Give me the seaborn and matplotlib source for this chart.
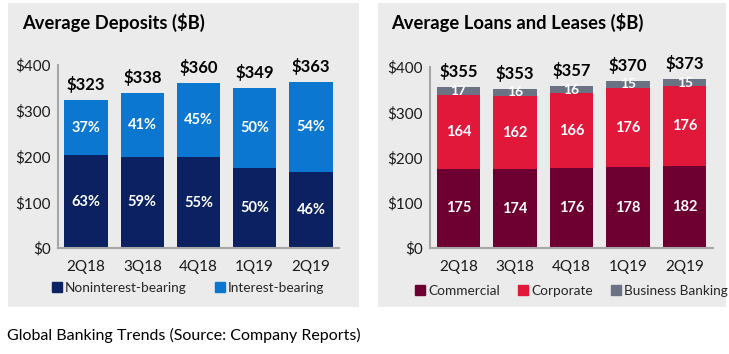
import pandas as pd
import seaborn as sns
import matplotlib.pyplot as plt
from matplotlib.patches import Rectangle, Patch

quarters = ['2Q18', '3Q18', '4Q18', '1Q19', '2Q19']

# Average Deposits ($B)
dep_total = [323, 338, 360, 349, 363]
dep_nonint = [203, 199, 198, 175, 167]
dep_nonint_pct = ['63%', '59%', '55%', '50%', '46%']
dep_int_pct = ['37%', '41%', '45%', '50%', '54%']

# Average Loans and Leases ($B)
loan_total = [355, 353, 357, 370, 373]
loan_commercial = [175, 174, 176, 178, 182]
loan_corporate = [164, 162, 166, 176, 176]
loan_business = [17, 16, 16, 15, 15]

NAVY, BLUE = '#0B2162', '#0B77D1'
MAROON, RED, SLATE = '#6D0030', '#E2183A', '#6B7284'
PANEL = '#EBEBEB'

sns.set_theme(style='white')
plt.rcParams['font.family'] = ['Lato', 'DejaVu Sans']

W, H = 729, 354
fig = plt.figure(figsize=(W / 100, H / 100), dpi=100)
fig.patch.set_facecolor('white')


def px(x, y, w, h):
    # pixel box (left, top, width, height) -> figure fraction
    return [x / W, (H - y - h) / H, w / W, h / H]


# gray panels
for x0, w0 in [(8, 351), (378, 348)]:
    b = px(x0, 3, w0, 304)
    fig.add_artist(Rectangle((b[0], b[1]), b[2], b[3], transform=fig.transFigure,
                             facecolor=PANEL, edgecolor='none', zorder=0))


def style_axis(ax):
    ax.set_facecolor(PANEL)
    ax.set_ylim(0, 400)
    ax.set_xlim(-0.5, 4.5)
    ax.set_yticks([0, 100, 200, 300, 400])
    ax.set_yticklabels(['$0', '$100', '$200', '$300', '$400'])
    for s in ['top', 'right']:
        ax.spines[s].set_visible(False)
    for s in ['left', 'bottom']:
        ax.spines[s].set_color('#A6A6A6')
        ax.spines[s].set_linewidth(1.5)
    ax.tick_params(axis='both', length=0, labelsize=11, colors='#1a1a1a')
    ax.tick_params(axis='x', pad=9)
    ax.tick_params(axis='y', pad=5)
    ax.set_xlabel('')
    ax.set_ylabel('')


def layer(ax, vals, color):
    df = pd.DataFrame({'q': quarters, 'v': vals})
    sns.barplot(data=df, x='q', y='v', color=color, saturation=1, width=0.77,
                ax=ax, errorbar=None, edgecolor='none')


# ---- Deposits
ax1 = fig.add_axes(px(58, 65, 281, 183))
layer(ax1, dep_total, BLUE)
layer(ax1, dep_nonint, NAVY)
style_axis(ax1)
for i in range(len(quarters)):
    ax1.text(i, dep_nonint[i] / 2, dep_nonint_pct[i], ha='center', va='center',
             color='white', fontsize=10.5, fontweight='bold')
    ax1.text(i, (dep_total[i] + dep_nonint[i]) / 2, dep_int_pct[i], ha='center',
             va='center', color='white', fontsize=10.5, fontweight='bold')
    ax1.annotate(f'${dep_total[i]}', (i, dep_total[i]), xytext=(0, 5),
                 textcoords='offset points', ha='center', va='bottom',
                 fontsize=12, fontweight='bold', color='black')

# ---- Loans
ax2 = fig.add_axes(px(430, 67, 283, 181))
cum2 = [a + b for a, b in zip(loan_commercial, loan_corporate)]
cum3 = [a + b for a, b in zip(cum2, loan_business)]
layer(ax2, cum3, SLATE)
layer(ax2, cum2, RED)
layer(ax2, loan_commercial, MAROON)
style_axis(ax2)
for i in range(len(quarters)):
    ax2.text(i, loan_commercial[i] / 2, str(loan_commercial[i]), ha='center',
             va='center', color='white', fontsize=10.5, fontweight='bold')
    ax2.text(i, loan_commercial[i] + loan_corporate[i] / 2, str(loan_corporate[i]),
             ha='center', va='center', color='white', fontsize=10.5, fontweight='bold')
    ax2.text(i, cum2[i] + loan_business[i] / 2, str(loan_business[i]), ha='center',
             va='center', color='white', fontsize=10, fontweight='bold')
    ax2.annotate(f'${loan_total[i]}', (i, cum3[i]), xytext=(0, 5),
                 textcoords='offset points', ha='center', va='bottom',
                 fontsize=12, fontweight='bold', color='black')

# titles
fig.text(22 / W, 1 - 22 / H, 'Average Deposits ($B)', fontsize=13.2,
         fontweight='bold', va='center', ha='left', color='black')
fig.text(391 / W, 1 - 22 / H, 'Average Loans and Leases ($B)', fontsize=13.2,
         fontweight='bold', va='center', ha='left', color='black')

# legends
leg_kw = dict(loc='center left', frameon=False, fontsize=9.8, handlelength=0.75,
              handleheight=0.75, handletextpad=0.2, borderpad=0, borderaxespad=0)
fig.legend(handles=[Patch(color=NAVY, label='Noninterest-bearing'),
                    Patch(color=BLUE, label='Interest-bearing')],
           bbox_to_anchor=(52 / W, 1 - 288 / H), ncol=2, columnspacing=2.1, **leg_kw)
fig.legend(handles=[Patch(color=MAROON, label='Commercial'),
                    Patch(color=RED, label='Corporate'),
                    Patch(color=SLATE, label='Business Banking')],
           bbox_to_anchor=(415 / W, 1 - 291 / H), ncol=3, columnspacing=1.35, **leg_kw)

fig.text(7 / W, 1 - 335 / H, 'Global Banking Trends (Source: Company Reports)',
         fontsize=11.5, va='center', ha='left', color='black')

fig.savefig('out.png', dpi=100, facecolor='white')
